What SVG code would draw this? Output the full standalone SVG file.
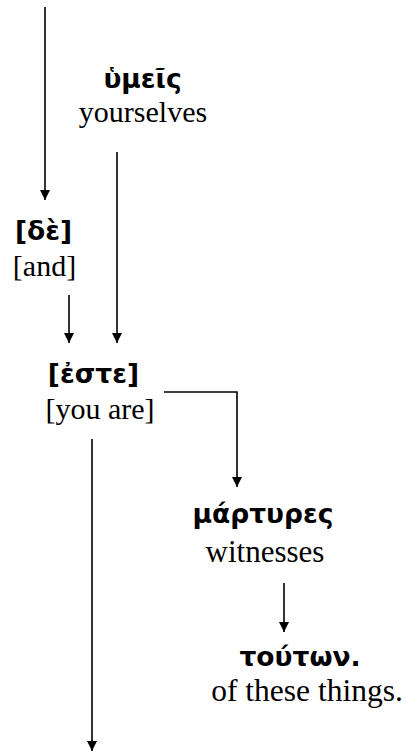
<svg xmlns="http://www.w3.org/2000/svg" width="406" height="752" viewBox="0 0 406 752">
<style>
.gk{font-family:"DejaVu Sans","Noto Sans",sans-serif;font-weight:bold;font-size:26.5px;fill:#000;text-anchor:middle}
.en{font-family:"Liberation Serif","Times New Roman",serif;font-size:30px;fill:#000;text-anchor:middle}
.c{stroke:#000;stroke-width:1.6;fill:none;marker-end:url(#ah)}
</style>
<defs>
<marker id="ah" markerUnits="userSpaceOnUse" markerWidth="10" markerHeight="10" refX="10" refY="5" orient="auto">
<path d="M0,0 L10,5 L0,10 z" fill="#000"/>
</marker>
</defs>
<rect width="406" height="752" fill="#fff"/>
<g id="connectors">
<line class="c" x1="45" y1="7" x2="45" y2="200"/>
<line class="c" x1="117" y1="152" x2="117" y2="343"/>
<line class="c" x1="69" y1="295" x2="69" y2="343"/>
<polyline class="c" points="164,392 237,392 237,487"/>
<line class="c" x1="284" y1="583" x2="284" y2="632"/>
<line class="c" x1="92" y1="439" x2="92" y2="751"/>
</g>
<g id="n-humeis">
<text class="gk" x="142.5" y="88">ὑμεῖς</text>
<text class="en" x="143" y="122">yourselves</text>
</g>
<g id="n-de">
<text class="gk" x="43.5" y="240">[δὲ]</text>
<text class="en" x="44.5" y="276">[and]</text>
</g>
<g id="n-este">
<text class="gk" x="93.5" y="383">[ἐστε]</text>
<text class="en" x="100" y="419">[you are]</text>
</g>
<g id="n-martures">
<text class="gk" x="263" y="523">μάρτυρες</text>
<text class="en" x="265" y="562" style="font-size:31px">witnesses</text>
</g>
<g id="n-touton">
<text class="gk" x="300" y="666">τούτων.</text>
<text class="en" x="307" y="701" style="font-size:31.5px">of these things.</text>
</g>
</svg>
